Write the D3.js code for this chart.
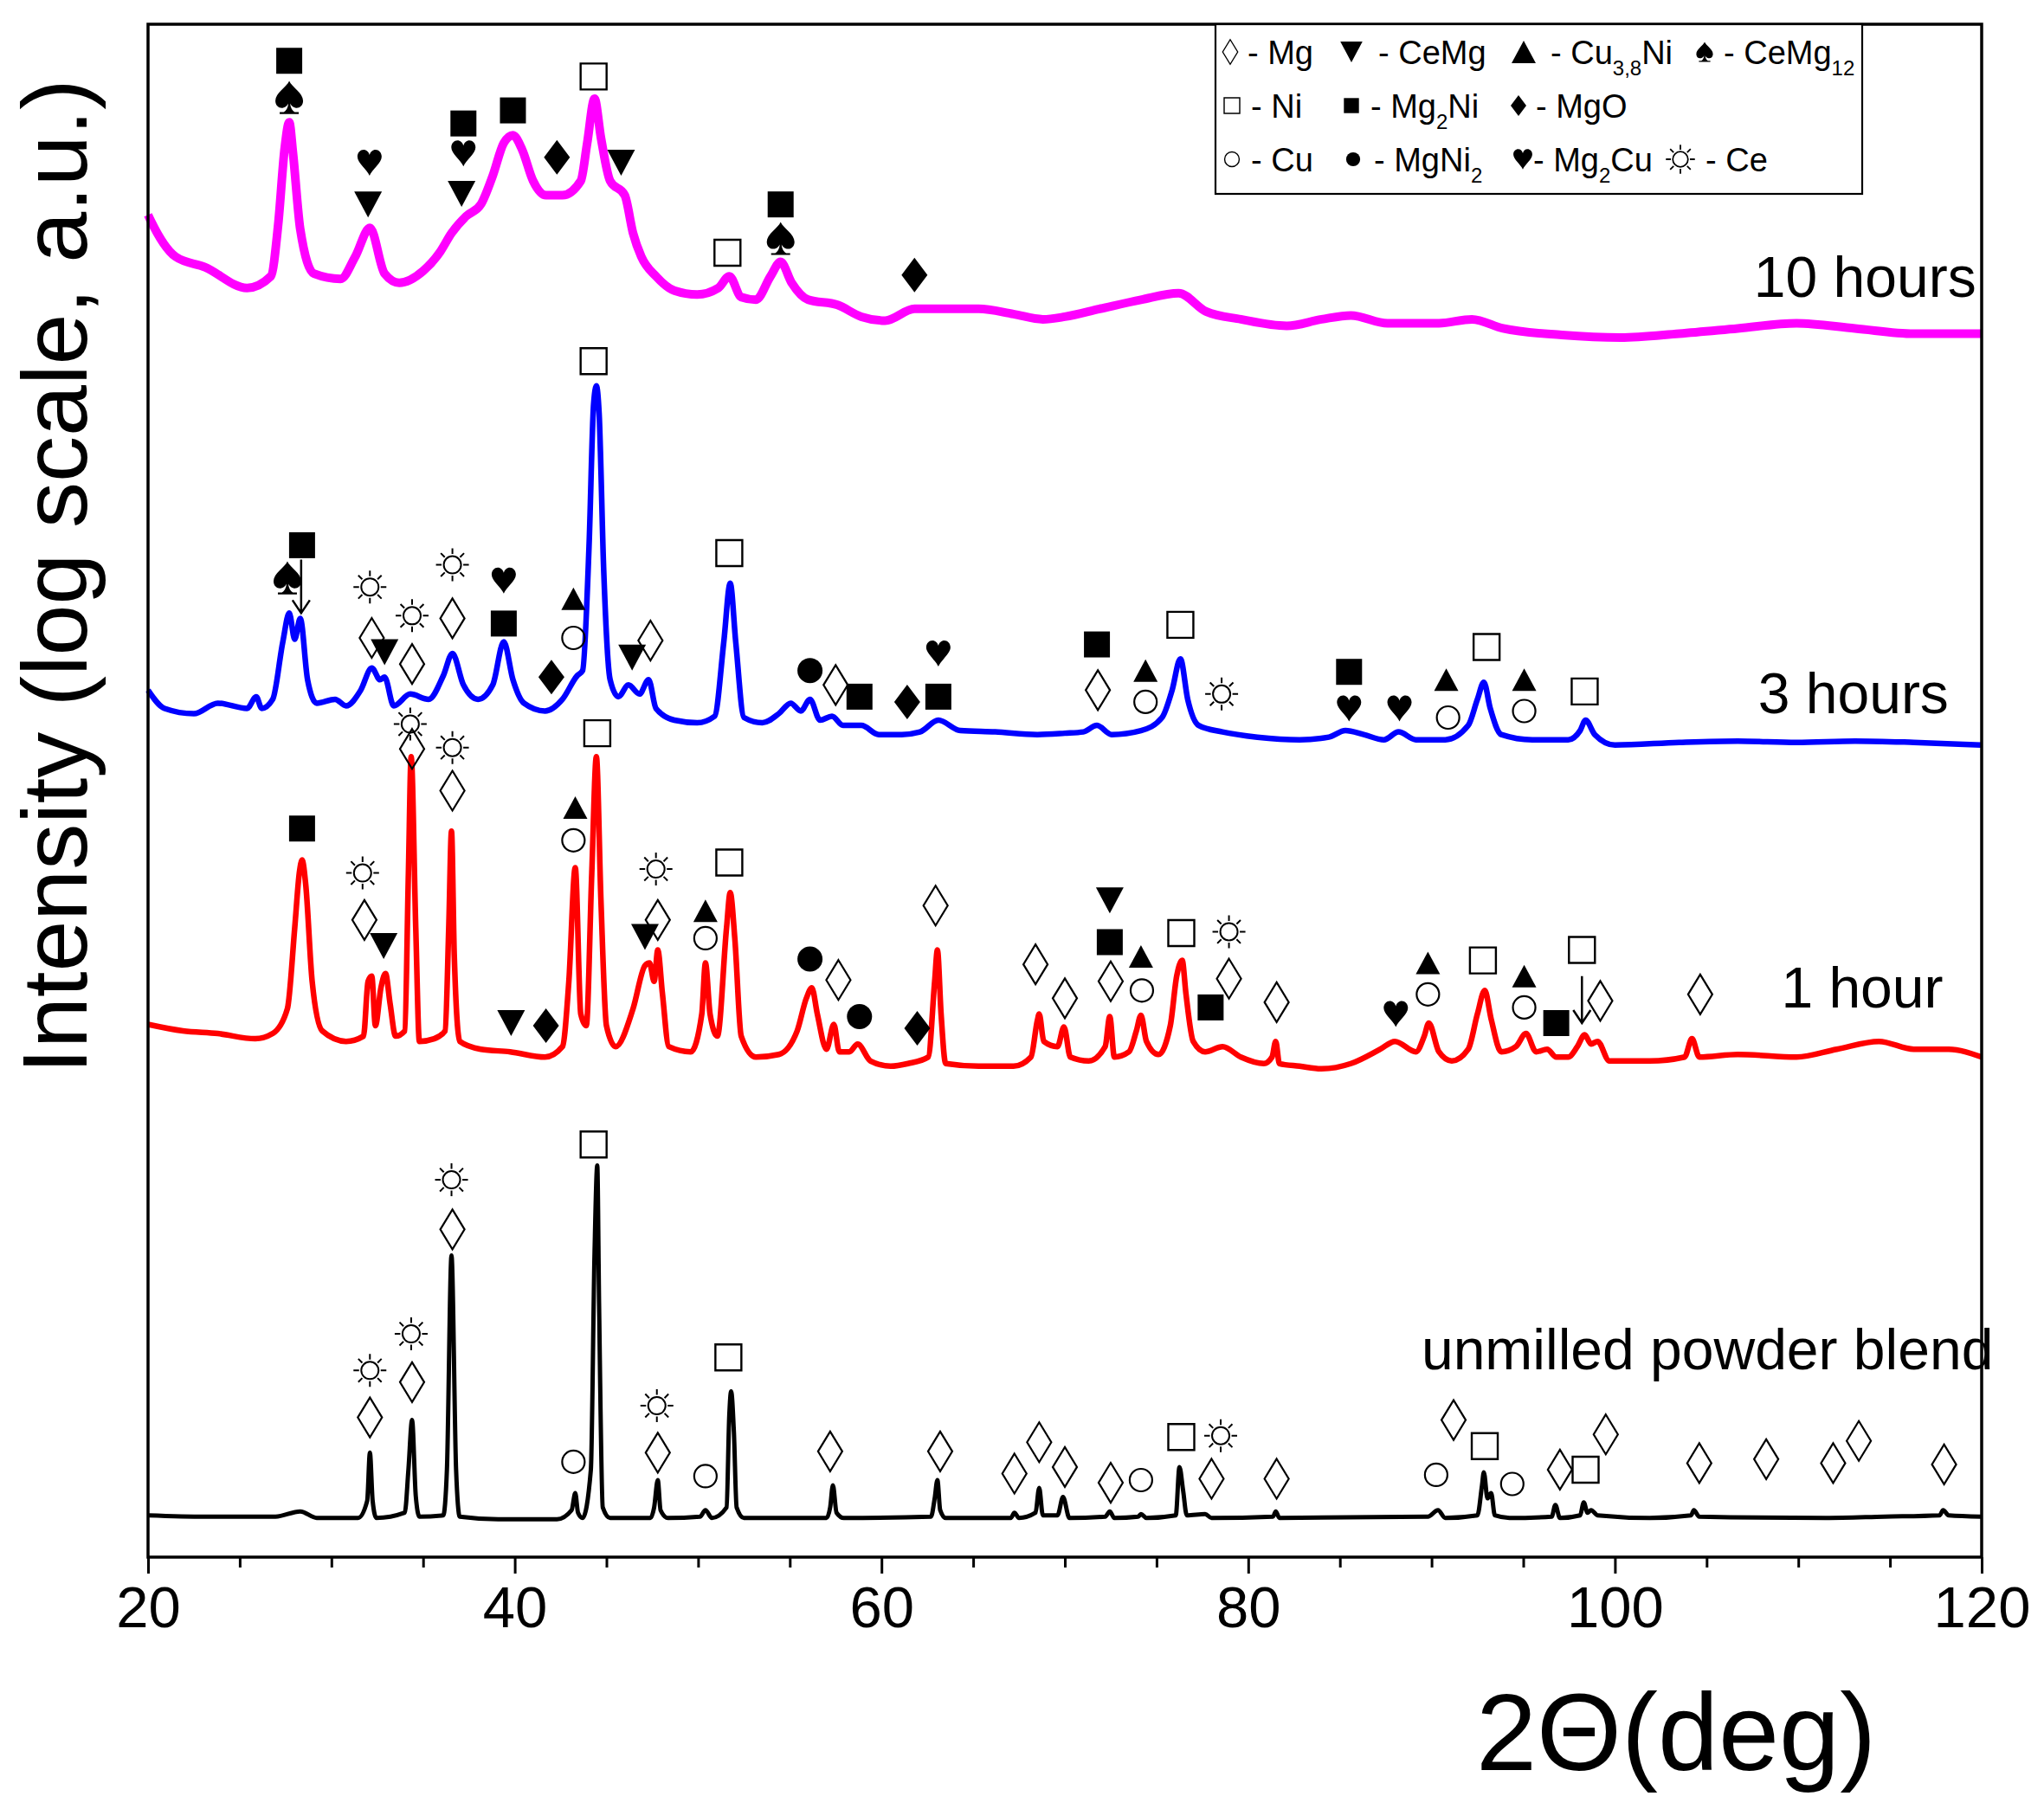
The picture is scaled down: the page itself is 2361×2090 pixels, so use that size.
<!DOCTYPE html>
<html><head><meta charset="utf-8">
<script src="https://cdn.jsdelivr.net/npm/d3@7"></script>
<style>
html,body{margin:0;padding:0;background:#fff;}
svg{display:block;font-family:"Liberation Sans",Arial,sans-serif;}
</style></head>
<body>
<svg id="chart" width="2361" height="2090"></svg>
<script>
// ---------------- DATA (2θ in degrees, intensity in arbitrary stacked units) ----------------
const xTicks = [20, 40, 60, 80, 100, 120];
const xMinorTicks = [25, 30, 35, 45, 50, 55, 65, 70, 75, 85, 90, 95, 105, 110, 115];

const hours10 = [[20,1028],[20.1,1025],[21.5,996],[23.1,988],[25.4,972],[26.7,981],[27.1,1021],[27.45,1079],[27.7,1099],[27.9,1076],[28.3,1017],[29.05,983],[30.5,979],[31.3,996],[32.1,1018],[32.9,983],[33.7,976],[35.0,985],[35.9,999],[36.55,1014],[37.35,1027],[38.15,1036],[38.8,1058],[39.4,1083],[39.9,1089],[40.4,1078],[41.0,1054],[41.7,1043],[42.6,1043],[43.6,1054],[43.95,1083],[44.35,1117],[44.7,1087],[45.2,1054],[46.0,1043],[46.45,1014],[46.9,996],[47.7,981],[48.7,970],[49.95,967],[51.1,972],[51.7,981],[52.35,965],[53.15,963],[53.95,981],[54.5,992],[55.1,976],[56.0,963],[57.6,959],[58.9,950],[60.2,947],[61.8,956],[63.4,956],[65.3,956],[67.2,952],[68.8,948],[70.0,950],[71.9,956],[74.15,963],[76.2,968],[77.7,954],[79.6,948],[82.1,943],[84.0,948],[85.6,951],[87.6,945],[90.4,945],[92.2,948],[93.9,941],[97.1,936],[100.3,934],[103.5,937],[106.7,941],[109.9,945],[113.1,941],[116.3,937],[119.8,937],[120,937]];

const hours3 = [[20,664],[20.9,650],[22.5,646],[23.8,654],[25.4,650],[25.9,659],[26.2,650],[26.8,657],[27.35,701],[27.7,723],[28.0,703],[28.3,719],[28.7,672],[29.2,654],[30.2,657],[30.8,652],[31.6,664],[32.2,681],[32.65,672],[32.9,674],[33.4,652],[34.3,661],[35.3,657],[36.1,675],[36.6,692],[37.2,668],[38.0,657],[38.8,668],[39.4,701],[39.9,672],[40.5,654],[41.65,648],[42.6,657],[43.4,675],[43.7,679],[44.05,774],[44.3,883],[44.45,897],[44.6,876],[44.85,756],[45.2,672],[45.65,659],[46.2,668],[46.8,661],[47.3,672],[47.7,650],[48.7,641],[49.95,639],[50.9,644],[51.4,701],[51.75,746],[52.05,701],[52.5,643],[53.5,639],[54.4,646],[55.05,654],[55.6,648],[56.1,657],[56.65,641],[57.3,644],[57.9,637],[58.9,637],[59.85,630],[61.1,630],[62.1,632],[63.1,641],[64.3,633],[66.2,632],[68.5,630],[70.0,631],[71.0,632],[71.75,637],[72.55,630],[74.15,633],[75.3,643],[75.85,664],[76.3,688],[76.7,657],[77.3,637],[78.6,632],[80.5,628],[82.8,626],[84.4,628],[85.3,633],[86.3,630],[87.4,626],[88.2,632],[89.15,626],[90.75,626],[92.0,637],[92.5,657],[92.85,670],[93.2,650],[93.8,630],[95.5,626],[97.45,626],[98.1,633],[98.4,641],[98.9,630],[100.0,622],[103.5,624],[106.7,625],[109.9,624],[113.1,625],[116.3,624],[120,622]];

const hours1 = [[20,408],[21.9,403],[23.8,401],[25.85,397],[26.8,401],[27.6,420],[28.0,482],[28.25,524],[28.4,534],[28.6,515],[28.95,441],[29.5,403],[30.8,395],[31.75,399],[32.0,441],[32.2,445],[32.4,407],[32.7,436],[32.95,447],[33.2,424],[33.5,399],[34.0,403],[34.2,524],[34.35,613],[34.6,482],[34.8,395],[35.6,397],[36.2,403],[36.4,482],[36.55,556],[36.7,461],[37.0,395],[38.15,389],[39.75,387],[41.65,383],[42.6,391],[42.95,441],[43.3,528],[43.6,416],[43.9,407],[44.2,524],[44.45,613],[44.7,503],[45.0,407],[45.5,391],[46.45,420],[47.1,453],[47.35,455],[47.6,441],[47.8,465],[48.05,432],[48.4,391],[49.6,387],[50.2,416],[50.4,455],[50.65,416],[51.05,399],[51.55,482],[51.75,509],[52.0,474],[52.35,399],[53.15,383],[54.4,385],[55.4,403],[55.9,428],[56.2,436],[56.5,416],[57.0,389],[57.4,408],[57.7,387],[58.25,387],[58.7,393],[59.4,380],[60.5,376],[61.45,378],[62.55,383],[62.9,441],[63.05,465],[63.25,416],[63.5,378],[65.3,376],[67.2,376],[68.15,383],[68.5,411],[68.6,416],[68.85,395],[69.6,391],[69.95,406],[70.3,383],[71.3,380],[72.2,391],[72.45,414],[72.7,383],[73.5,387],[73.9,403],[74.15,415],[74.45,395],[75.1,385],[75.75,407],[76.1,445],[76.4,457],[76.6,432],[77.0,395],[77.65,387],[78.6,391],[79.6,383],[80.85,378],[81.3,383],[81.5,395],[81.7,378],[82.8,376],[84.0,374],[85.6,378],[87.2,389],[88.0,395],[89.15,387],[89.6,399],[89.85,409],[90.4,387],[91.1,380],[92.0,389],[92.5,416],[92.9,434],[93.25,412],[93.8,387],[94.6,391],[95.15,401],[95.7,387],[96.3,389],[96.8,383],[97.45,383],[97.95,391],[98.35,400],[98.7,393],[99.05,395],[99.7,380],[101.9,380],[103.8,383],[104.2,397],[104.6,383],[106.7,385],[109.9,383],[112.1,389],[114.4,395],[116.3,389],[118.2,389],[120,383]];

const unmilled = [[20,32],[23.1,31],[26.95,31],[28.3,35],[29.2,30],[31.45,30],[31.95,43],[32.1,80],[32.25,43],[32.45,30],[34.0,34],[34.2,67],[34.4,105],[34.6,47],[34.8,31],[36.1,32],[36.3,67],[36.55,231],[36.8,67],[37.0,31],[39.1,29],[42.3,29],[43.1,36],[43.3,49],[43.45,34],[43.7,30],[44.15,67],[44.35,233],[44.5,300],[44.6,192],[44.8,38],[45.2,30],[47.4,30],[47.6,38],[47.8,59],[47.95,36],[48.35,30],[50.1,31],[50.4,36],[50.75,30],[51.55,38],[51.7,109],[51.8,127],[51.95,96],[52.1,38],[52.5,30],[57.0,30],[57.2,38],[57.35,55],[57.55,34],[57.95,30],[62.7,31],[62.9,45],[63.05,59],[63.2,36],[63.5,30],[67.05,30],[67.25,34],[67.5,30],[68.4,34],[68.6,53],[68.8,32],[69.6,32],[69.9,46],[70.25,30],[72.2,31],[72.45,35],[72.7,30],[74.0,31],[74.15,33],[74.45,30],[76.05,32],[76.25,69],[76.45,51],[76.65,32],[77.65,33],[78.0,30],[81.35,31],[81.5,35],[81.7,30],[89.8,31],[90.35,36],[90.75,30],[92.5,32],[92.75,55],[92.85,65],[93.05,45],[93.25,49],[93.45,32],[94.25,30],[96.55,31],[96.75,40],[97.0,30],[98.1,32],[98.3,42],[98.5,34],[98.7,36],[99.05,32],[101.9,30],[104.15,32],[104.3,36],[104.6,31],[111.5,30],[114.7,31],[117.7,32],[117.9,36],[118.2,32],[120,31]];

// phase markers: [phase, 2θ, intensity position]
const markers10h = [['Mg2Ni',27.7,1146],['CeMg12',27.7,1118],['Mg2Cu',32.08,1068],['CeMg',32.0,1036],['Mg2Ni',37.2,1098],['Mg2Cu',37.2,1075],['CeMg',37.1,1044],['Mg2Ni',39.9,1108],['MgO',42.3,1072],['Ni',44.3,1134],['CeMg',45.8,1068],['Ni',51.6,999],['Mg2Ni',54.5,1036],['CeMg12',54.5,1010],['MgO',61.8,982]];

const markers3h = [['Ni',44.3,916],['Mg2Ni',28.4,775],['CeMg12',27.6,750],['Ce',32.1,743],['Mg',32.2,704],['CeMg',32.9,693],['Ce',34.4,721],['Mg',34.4,684],['Ce',36.6,760],['Mg',36.6,719],['Mg2Cu',39.4,748],['Mg2Ni',39.4,715],['MgO',42.0,674],['CuNi',43.2,734],['Cu',43.2,704],['CeMg',46.4,689],['Mg',47.4,702],['Ni',51.7,769],['MgNi2',56.1,679],['Mg',57.5,668],['Mg2Ni',58.8,659],['MgO',61.4,655],['Mg2Cu',63.1,692],['Mg2Ni',63.1,659],['Mg2Ni',71.75,699],['Mg',71.8,664],['CuNi',74.4,679],['Cu',74.4,655],['Ni',76.3,714],['Ce',78.55,661],['Mg2Ni',85.5,678],['Mg2Cu',85.5,650],['Mg2Cu',88.25,650],['CuNi',90.8,672],['Cu',90.9,643],['Ni',93.0,697],['CuNi',95.05,672],['Cu',95.05,648],['Ni',98.35,663]];

const markers1h = [['Ce',34.3,638],['Mg',34.4,619],['Ce',36.6,620],['Mg',36.6,587],['Ni',44.5,631],['Mg2Ni',28.4,558],['Ce',31.7,524],['Mg',31.8,488],['CeMg',32.85,468],['CuNi',43.3,574],['Cu',43.2,549],['Ce',47.7,527],['Mg',47.8,488],['CeMg',47.1,475],['CuNi',50.4,495],['Cu',50.4,474],['Ni',51.7,532],['MgNi2',56.1,458],['Mg',57.65,442],['MgNi2',58.8,414],['MgO',61.95,405],['CeMg',39.8,409],['MgO',41.7,407],['Mg',62.95,499],['Mg',68.4,454],['Mg',70.0,428],['CeMg',72.45,503],['Mg2Ni',72.45,471],['Mg',72.5,441],['CuNi',74.15,460],['Cu',74.2,434],['Ni',76.35,478],['Ce',78.95,479],['Mg',78.95,443],['Mg2Ni',77.95,421],['Mg',81.55,425],['Mg2Cu',88.05,416],['CuNi',89.8,455],['Cu',89.8,431],['Ni',92.8,457],['CuNi',95.05,445],['Cu',95.05,421],['Mg2Ni',96.8,409],['Ni',98.2,465],['Mg',99.2,426],['Mg',104.65,431]];

const markersUnmilled = [['Ni',44.3,316],['Ce',36.55,289],['Mg',36.6,251],['Ce',34.35,171],['Mg',34.4,134],['Ce',32.1,143],['Mg',32.1,107],['Cu',43.2,73],['Ce',47.75,116],['Mg',47.8,80],['Cu',50.4,62],['Ni',51.65,153],['Mg',57.2,81],['Mg',63.2,81],['Mg',67.25,64],['Mg',68.6,88],['Mg',70.0,69],['Mg',72.5,57],['Cu',74.15,59],['Ni',76.35,92],['Ce',78.5,93],['Mg',78.0,60],['Mg',81.55,60],['Cu',90.25,63],['Mg',91.2,105],['Ni',92.9,85],['Cu',94.4,56],['Mg',97.0,67],['Ni',98.4,67],['Mg',99.5,94],['Mg',104.6,72],['Mg',108.25,75],['Mg',111.9,72],['Mg',113.3,89],['Mg',117.95,71]];

// arrows: [2θ, from, to]
const arrows = [[28.35,764,723],[98.2,445,409]];

// curve labels: [text, 2θ anchor, intensity baseline, anchor]
const curveLabels = [['10 hours',119.7,965,'end'],['3 hours',118.2,646,'end'],['1 hour',117.9,421,'end'],['unmilled powder blend',89.45,144,'start']];

const seriesColors = ['#ff00ff','#0000ff','#ff0000','#000000'];
const seriesWidths = [10, 6.5, 6.5, 5];

// ---------------- CHART ----------------
const svg = d3.select('#chart');
const M = {left:171, right:2289, top:28, bottom:1799};
const x = d3.scaleLinear().domain([20,120]).range([M.left, M.right]);
const y = d3.scaleLinear().domain([0,1174]).range([M.bottom, M.top]);

// symbol paths (centered at 0,0)
const circ = r => `M${-r},0A${r},${r} 0 1,0 ${r},0A${r},${r} 0 1,0 ${-r},0Z`;
const sunRays = (() => { let s=''; for (let k=0;k<8;k++){const a=k*Math.PI/4; s+=`M${(12.5*Math.cos(a)).toFixed(2)},${(12.5*Math.sin(a)).toFixed(2)}L${(19*Math.cos(a)).toFixed(2)},${(19*Math.sin(a)).toFixed(2)}`;} return s; })();
const SYM = {
  Mg:    {d:'M0,-23L14,0L0,23L-14,0Z', fill:'none', sw:2.2},
  CeMg:  {d:'M-16,-15L16,-15L0,15Z', fill:'#000', sw:0},
  CuNi:  {d:'M0,-13L14,13L-14,13Z', fill:'#000', sw:0},
  CeMg12:{d:'M0,-19C3,-12 16,-5 16,4C16,10 11,13 7,12C4,11.5 2,9 1,7C1.5,12 3.5,15.5 7,17.5L-7,17.5C-3.5,15.5 -1.5,12 -1,7C-2,9 -4,11.5 -7,12C-11,13 -16,10 -16,4C-16,-5 -3,-12 0,-19ZM-11,17h22v2.2h-22Z', fill:'#000', sw:0},
  Ni:    {d:'M-15,-15h30v30h-30Z', fill:'none', sw:2.4},
  Mg2Ni: {d:'M-15,-15h30v30h-30Z', fill:'#000', sw:0},
  MgO:   {d:'M0,-20L15,0L0,20L-15,0Z', fill:'#000', sw:0},
  Cu:    {d:circ(13), fill:'none', sw:2.2},
  MgNi2: {d:circ(14.5), fill:'#000', sw:0},
  Mg2Cu: {d:'M0,15C-3,8 -14,0 -14,-7C-14,-12 -10.5,-15 -7,-15C-3.5,-15 -1,-12.5 0,-9C1,-12.5 3.5,-15 7,-15C10.5,-15 14,-12 14,-7C14,0 3,8 0,15Z', fill:'#000', sw:0},
  Ce:    {d:circ(10)+sunRays, fill:'none', sw:2}
};
function drawSym(g, type, cx, cy, s) {
  const S = SYM[type];
  g.append('path').attr('d', S.d)
    .attr('transform', `translate(${cx},${cy}) scale(${s})`)
    .attr('fill', S.fill)
    .attr('stroke', S.sw ? '#000' : 'none')
    .attr('stroke-width', S.sw)
    .attr('stroke-linejoin','miter');
}

// curves
const line = d3.line().x(d => x(d[0])).y(d => y(d[1])).curve(d3.curveMonotoneX);
const gCurves = svg.append('g');
[hours10, hours3, hours1, unmilled].forEach((s, i) => {
  gCurves.append('path').datum(s).attr('d', line)
    .attr('fill','none').attr('stroke', seriesColors[i])
    .attr('stroke-width', seriesWidths[i]).attr('stroke-linejoin','round');
});

// markers
const gMarks = svg.append('g');
[markers10h, markers3h, markers1h, markersUnmilled].forEach(arr =>
  arr.forEach(m => drawSym(gMarks, m[0], x(m[1]), y(m[2]), 1)));

arrows.forEach(a => {
  const ax = x(a[0]), y1 = y(a[1]), y2 = y(a[2]);
  gMarks.append('path')
    .attr('d', `M${ax},${y1}L${ax},${y2}M${ax-10},${y2-15}L${ax},${y2}L${ax+10},${y2-15}`)
    .attr('fill','none').attr('stroke','#000').attr('stroke-width',2.5);
});

// curve labels
curveLabels.forEach(l => {
  svg.append('text').attr('x', x(l[1])).attr('y', y(l[2]))
    .attr('text-anchor', l[3]).attr('font-size', 66).attr('fill','#000').text(l[0]);
});

// frame
svg.append('rect').attr('x', M.left).attr('y', M.top)
  .attr('width', M.right - M.left).attr('height', M.bottom - M.top)
  .attr('fill','none').attr('stroke','#000').attr('stroke-width',3.5);

// x axis
const gx = svg.append('g').attr('transform', `translate(0,${M.bottom})`)
  .call(d3.axisBottom(x).tickValues(xTicks).tickSize(19).tickPadding(14).tickFormat(d3.format('d')));
gx.select('.domain').remove();
gx.selectAll('.tick line').attr('stroke-width',3);
gx.selectAll('.tick text').attr('font-size',67).attr('font-family','"Liberation Sans",Arial,sans-serif').attr('fill','#000');
const gxm = svg.append('g').attr('transform', `translate(0,${M.bottom})`)
  .call(d3.axisBottom(x).tickValues(xMinorTicks).tickSize(12).tickFormat(''));
gxm.select('.domain').remove();
gxm.selectAll('.tick line').attr('stroke-width',3);

// axis titles
svg.append('text').attr('x', 1936).attr('y', 2045).attr('text-anchor','middle')
  .attr('font-size',126).attr('fill','#000').text('2Θ(deg)');
svg.append('text').attr('transform','translate(100,666) rotate(-90)').attr('text-anchor','middle')
  .attr('font-size',106).attr('fill','#000').text('Intensity (log scale, a.u.)');

// legend
const gl = svg.append('g');
gl.append('rect').attr('x',1404).attr('y',M.top).attr('width',747).attr('height',196)
  .attr('fill','#fff').attr('stroke','#000').attr('stroke-width',2.2);
const legendItems = [
  {sym:'Mg',    sx:1421, s:0.62, tx:1441, row:0, parts:[['- Mg',0]]},
  {sym:'CeMg',  sx:1561, s:0.8,  tx:1592, row:0, parts:[['- CeMg',0]]},
  {sym:'CuNi',  sx:1760, s:1.0,  tx:1791, row:0, parts:[['- Cu',0],['3,8',1],['Ni',0]]},
  {sym:'CeMg12',sx:1969, s:0.6,  tx:1991, row:0, parts:[['- CeMg',0],['12',1]]},
  {sym:'Ni',    sx:1423, s:0.6,  tx:1445, row:1, parts:[['- Ni',0]]},
  {sym:'Mg2Ni', sx:1561, s:0.58, tx:1583, row:1, parts:[['- Mg',0],['2',1],['Ni',0]]},
  {sym:'MgO',   sx:1754, s:0.6,  tx:1774, row:1, parts:[['- MgO',0]]},
  {sym:'Cu',    sx:1423, s:0.65, tx:1445, row:2, parts:[['- Cu',0]]},
  {sym:'MgNi2', sx:1563, s:0.56, tx:1587, row:2, parts:[['- MgNi',0],['2',1]]},
  {sym:'Mg2Cu', sx:1759, s:0.78, tx:1771, row:2, parts:[['- Mg',0],['2',1],['Cu',0]]},
  {sym:'Ce',    sx:1941, s:0.88, tx:1970, row:2, parts:[['- Ce',0]]}
];
const rowBase = [74, 136, 198];
legendItems.forEach(it => {
  const b = rowBase[it.row];
  drawSym(gl, it.sym, it.sx, b - 14, it.s);
  const t = gl.append('text').attr('x', it.tx).attr('y', b).attr('font-size', 38).attr('fill','#000');
  let sub = false;
  it.parts.forEach(p => {
    const ts = t.append('tspan').text(p[0]);
    if (p[1] && !sub) { ts.attr('font-size', 24).attr('dy', 13); sub = true; }
    else if (!p[1] && sub) { ts.attr('font-size', 38).attr('dy', -13); sub = false; }
  });
});
</script>
</body></html>
